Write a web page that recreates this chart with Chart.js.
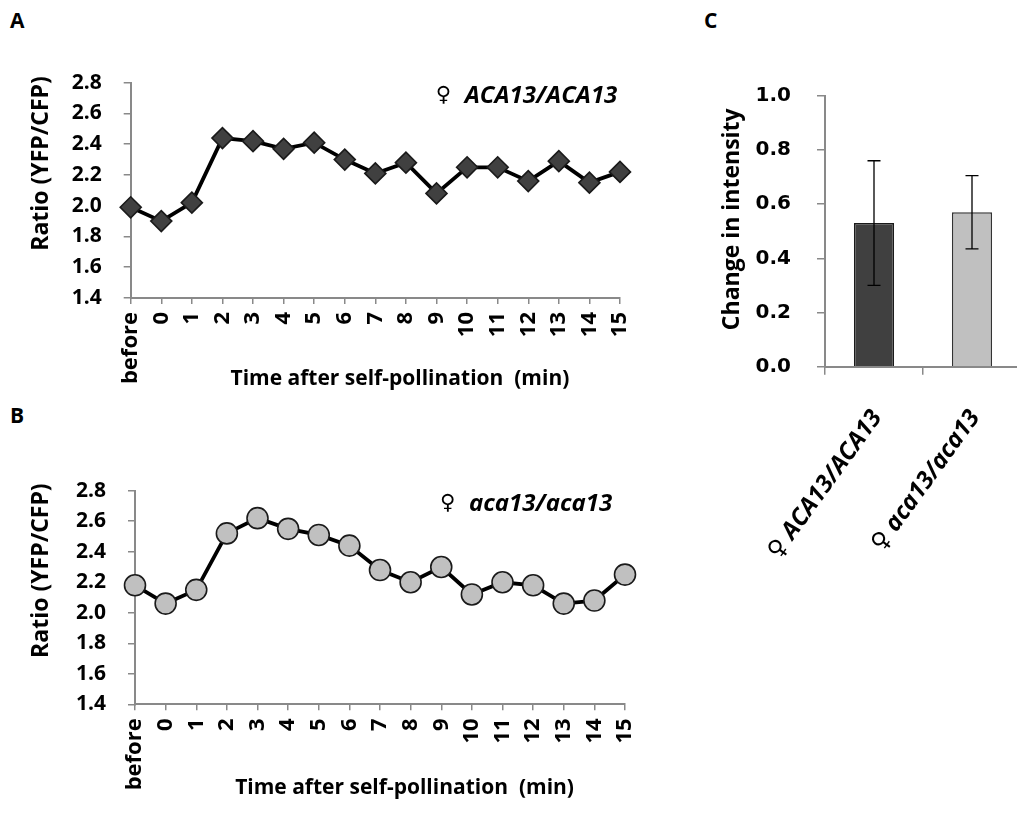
<!DOCTYPE html>
<html>
<head>
<meta charset="utf-8">
<script src="https://cdn.jsdelivr.net/npm/chart.js@4.4.1/dist/chart.umd.min.js"></script>
<style>
html, body { margin: 0; padding: 0; background: #fff; width: 1017px; height: 814px; overflow: hidden; }
.panel { position: absolute; }
.letter { position: absolute; font: bold 21px "Open Sans", "DejaVu Sans", sans-serif; color: #000; }
</style>
</head>
<body>
<div class="letter" style="left:10px;top:6px">A</div>
<div class="letter" style="left:10px;top:401px">B</div>
<div class="letter" style="left:704px;top:6px">C</div>
<div class="panel" style="left:0;top:0;width:665px;height:405px"><canvas id="chartA"></canvas></div>
<div class="panel" style="left:0;top:410px;width:665px;height:404px"><canvas id="chartB"></canvas></div>
<div class="panel" style="left:700px;top:0;width:330px;height:600px"><canvas id="chartC"></canvas></div>

<script>
// --- DATA ---
const timeLabels = ['before', '0', '1', '2', '3', '4', '5', '6', '7', '8', '9', '10', '11', '12', '13', '14', '15'];
const ratioWildType = [1.99, 1.90, 2.02, 2.44, 2.42, 2.37, 2.41, 2.30, 2.21, 2.28, 2.08, 2.25, 2.25, 2.16, 2.29, 2.15, 2.22];
const ratioMutant = [2.18, 2.06, 2.15, 2.52, 2.62, 2.55, 2.51, 2.44, 2.28, 2.20, 2.30, 2.12, 2.20, 2.18, 2.06, 2.08, 2.25];
const ratioMin = 1.4, ratioMax = 2.8, ratioStep = 0.2;

const genotypeNames = ['ACA13/ACA13', 'aca13/aca13'];
const femaleSign = '\u2640';
const intensityMean = [0.53, 0.57];
const intensityErr = [0.23, 0.135];
const intensityMin = 0, intensityMax = 1.0, intensityStep = 0.2;

const AXIS_GREY = '#898989';
const FONT = '"Open Sans", "DejaVu Sans", sans-serif';

// leading spaces nudge the axis titles the way the original sits off-centre
const pad = n => ' '.repeat(n);

// gene label drawn inside the plot, top right
const genotypeLabel = {
    id: 'genotypeLabel',
    afterDatasetsDraw(chart, args, opts) {
        const { ctx, chartArea } = chart;
        const x = chartArea.left + opts.dx;
        const y = chartArea.top + opts.dy;
        ctx.save();
        ctx.fillStyle = '#000';
        ctx.textBaseline = 'middle';
        ctx.textAlign = 'left';
        ctx.font = '21px "DejaVu Sans"';
        ctx.fillText(femaleSign, x, y);
        ctx.font = 'italic bold 24px ' + FONT;
        ctx.fillText(opts.text, x + 29, y);
        ctx.restore();
    }
};

// error bars for panel C
const errorBars = {
    id: 'errorBars',
    afterDatasetsDraw(chart) {
        const { ctx } = chart;
        const yScale = chart.scales.y;
        const meta = chart.getDatasetMeta(0);
        ctx.save();
        ctx.strokeStyle = '#000';
        ctx.lineWidth = 1.3;
        meta.data.forEach((bar, i) => {
            const top = yScale.getPixelForValue(intensityMean[i] + intensityErr[i]);
            const bot = yScale.getPixelForValue(intensityMean[i] - intensityErr[i]);
            const x = bar.x;
            ctx.beginPath();
            ctx.moveTo(x, top); ctx.lineTo(x, bot);
            ctx.moveTo(x - 6.5, top); ctx.lineTo(x + 6.5, top);
            ctx.moveTo(x - 6.5, bot); ctx.lineTo(x + 6.5, bot);
            ctx.stroke();
        });
        ctx.restore();
    }
};

function makeLineChart(id, values, geo) {
    const ctx = document.getElementById(id).getContext('2d');
    return new Chart(ctx, {
        type: 'line',
        data: {
            labels: timeLabels,
            datasets: [{
                data: values,
                borderColor: '#000',
                borderWidth: 3.8,
                tension: 0,
                pointStyle: geo.pointStyle,
                pointRadius: geo.pointRadius,
                pointBackgroundColor: geo.fill,
                pointBorderColor: '#1a1a1a',
                pointBorderWidth: 1.6,
                clip: false
            }]
        },
        options: {
            responsive: true,
            maintainAspectRatio: false,
            animation: false,
            events: [],
            layout: { padding: { top: geo.padTop, right: geo.padRight, left: 0, bottom: 0 } },
            plugins: {
                legend: { display: false },
                tooltip: { enabled: false },
                genotypeLabel: { text: geo.label, dx: 305, dy: 13 }
            },
            scales: {
                x: {
                    afterFit: s => { s.height = geo.xHeight; },
                    grid: { drawOnChartArea: false, tickLength: 6, color: AXIS_GREY, lineWidth: 1.5 },
                    border: { color: AXIS_GREY, width: 2 },
                    ticks: {
                        autoSkip: false,
                        minRotation: 90, maxRotation: 90, padding: 8,
                        color: '#000', font: { family: FONT, size: 22, weight: 'bold' }
                    },
                    title: {
                        display: true,
                        text: pad(9) + 'Time after self-pollination  (min)',
                        color: '#000',
                        font: { family: FONT, size: 21, weight: 'bold' },
                        padding: { top: 0, bottom: 13.4 }
                    }
                },
                y: {
                    min: ratioMin, max: ratioMax,
                    afterFit: s => { s.width = geo.yWidth; },
                    grid: { drawOnChartArea: false, tickLength: 7, color: AXIS_GREY, lineWidth: 1.5 },
                    border: { color: AXIS_GREY, width: 2 },
                    ticks: {
                        stepSize: ratioStep, padding: 22,
                        color: '#000', font: { family: FONT, size: 21, weight: 'bold' },
                        callback: v => Number(v).toFixed(1)
                    },
                    title: {
                        display: true,
                        text: pad(9) + 'Ratio (YFP/CFP)',
                        color: '#000',
                        font: { family: FONT, size: 23, weight: 'bold' },
                        padding: { top: 27.2, bottom: 0 }
                    }
                }
            }
        },
        plugins: [genotypeLabel]
    });
}

function makeBarChart() {
    const ctx = document.getElementById('chartC').getContext('2d');
    return new Chart(ctx, {
        type: 'bar',
        data: {
            labels: genotypeNames.map(g => femaleSign + ' ' + g),
            datasets: [{
                data: intensityMean,
                backgroundColor: ['#404040', '#c0c0c0'],
                borderColor: ['#1a1a1a', '#333333'],
                borderWidth: 1.5,
                categoryPercentage: 1.0,
                barPercentage: 0.41
            }]
        },
        options: {
            responsive: true,
            maintainAspectRatio: false,
            animation: false,
            events: [],
            layout: { padding: { top: 95.7, right: 9, left: 0, bottom: 0 } },
            plugins: { legend: { display: false }, tooltip: { enabled: false } },
            scales: {
                x: {
                    afterFit: s => { s.height = 233.3; },
                    grid: { drawOnChartArea: false, tickLength: 8, color: AXIS_GREY, lineWidth: 1.5 },
                    border: { color: AXIS_GREY, width: 2 },
                    ticks: {
                        minRotation: 54, maxRotation: 54, padding: 30, labelOffset: 3,
                        color: '#000', font: { family: FONT, size: 24, weight: 'bold', style: 'italic' }
                    }
                },
                y: {
                    min: intensityMin, max: intensityMax,
                    afterFit: s => { s.width = 125; },
                    grid: { drawOnChartArea: false, tickLength: 8, color: AXIS_GREY, lineWidth: 1.5 },
                    border: { color: AXIS_GREY, width: 2 },
                    ticks: {
                        stepSize: intensityStep, padding: 26,
                        color: '#000', font: { family: '"DejaVu Sans"', size: 20, weight: 'bold' },
                        callback: v => Number(v).toFixed(1)
                    },
                    title: {
                        display: true,
                        text: pad(4) + 'Change in intensity',
                        color: '#000',
                        font: { family: FONT, size: 23, weight: 'bold' },
                        padding: { top: 18.2, bottom: 0 }
                    }
                }
            }
        },
        plugins: [errorBars]
    });
}

function init() {
    makeLineChart('chartA', ratioWildType, {
        padTop: 82.7, padRight: 45, yWidth: 130.7, xHeight: 107,
        pointStyle: 'rectRot', pointRadius: 10.5, fill: '#404040',
        label: genotypeNames[0]
    });
    makeLineChart('chartB', ratioMutant, {
        padTop: 80.7, padRight: 40, yWidth: 135, xHeight: 109.7,
        pointStyle: 'circle', pointRadius: 10.5, fill: '#c0c0c0',
        label: genotypeNames[1]
    });
    makeBarChart();
}

Promise.all([
    document.fonts.load('bold 21px "Open Sans"'),
    document.fonts.load('italic bold 21px "Open Sans"'),
    document.fonts.load('bold 20px "DejaVu Sans"')
]).then(init, init);
</script>
</body>
</html>
